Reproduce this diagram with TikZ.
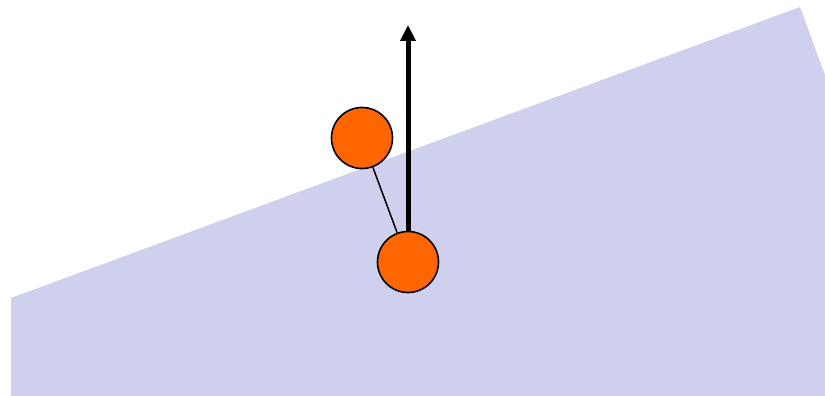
\documentclass[tikz,border=0pt]{standalone}
\usepackage{xcolor}
\usepackage{tikz}
\usetikzlibrary{arrows.meta}
\definecolor{slope}{HTML}{CFCFEE}
\definecolor{ballfill}{HTML}{FF6600}

\begin{document}
\begin{tikzpicture}[
    x=1pt, y=-1pt,
    >={Triangle[length=16pt, width=15pt]},
    ball/.style={circle, draw=black, line width=1.6pt, fill=ballfill, minimum size=61pt, inner sep=0pt},
]
    \useasboundingbox (0,0) rectangle (825,396);

    % Inclined ground
    \fill[slope] (11,396) -- (11,298) -- (800,7) -- (825,75) -- (825,396) -- cycle;

    % Balls
    \node[ball] (upper) at (362,138) {};
    \node[ball] (lower) at (408,262) {};
    \coordinate (tip) at (408,25);

    % Link and force
    \draw[line width=1.5pt] (upper) -- (lower);
    \draw[->, line width=5pt] (lower.north) -- (tip);
\end{tikzpicture}
\end{document}
